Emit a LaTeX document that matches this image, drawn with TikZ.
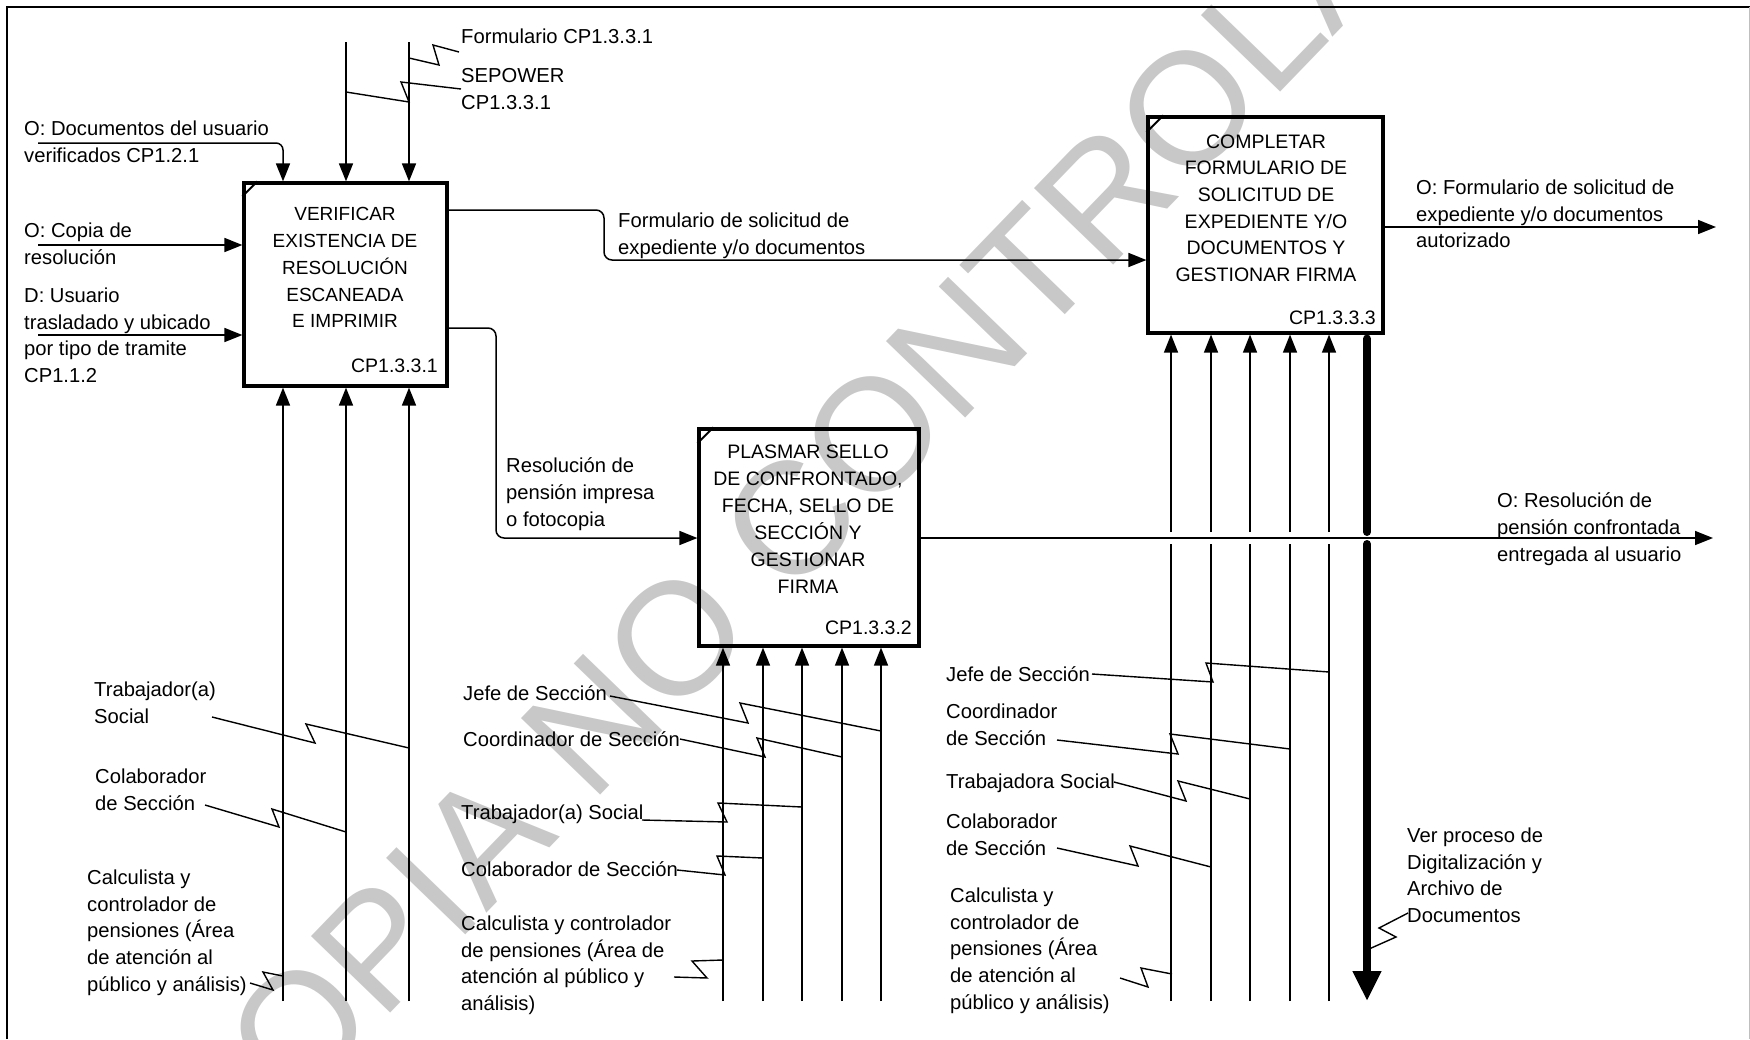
\documentclass[tikz,border=0pt]{standalone}
\usepackage{fontspec}
\setmainfont{Liberation Sans}
\usetikzlibrary{arrows.meta}
\definecolor{wmcol}{RGB}{200,200,200}
\begin{document}
\begin{tikzpicture}[x=1pt,y=-1pt,
  lab/.style={inner sep=0pt, align=left, anchor=north west, yshift=-4pt, font=\fontsize{20.2}{26.8}\selectfont, execute at begin node=\strut},
  btxt/.style={inner sep=0pt, align=center, anchor=north, yshift=-4pt, font=\fontsize{19.5}{26.8}\selectfont, execute at begin node=\strut},
  cpl/.style={inner sep=0pt, anchor=base east, font=\fontsize{19.5}{26.8}\selectfont},
  proc/.style={draw, line width=3.2pt, inner sep=0pt},
  ln/.style={line width=1.5pt},
  arr/.style={line width=1.5pt, -{Triangle[length=18pt,width=14pt]}},
  sq/.style={line width=1.4pt},
  thk/.style={line width=8pt, line cap=round}
]
\useasboundingbox (0,0) rectangle (1750,1039);
% watermark
\node[text=wmcol, inner sep=0pt, anchor=base west, rotate=46, font=\fontsize{160}{160}\selectfont] (wmk) at (215,1195) {COPIA NO CONTROLADA};
% frame
\draw[line width=2pt] (7,1039) -- (7,7) -- (1750,7);
\draw[black!25, line width=1pt] (1749,7) -- (1749,1039);

% process boxes
\node[proc, minimum width=203pt, minimum height=203pt] (b1) at (345.5,284.5) {};
\node[proc, minimum width=220pt, minimum height=217pt] (b2) at (809,537.5) {};
\node[proc, minimum width=235pt, minimum height=216pt] (b3) at (1265.5,225) {};
\draw[line width=2pt] ([yshift=-15pt]b1.north west) -- ([xshift=15pt]b1.north west);
\draw[line width=2pt] ([yshift=-16pt]b2.north west) -- ([xshift=16pt]b2.north west);
\draw[line width=2pt] ([yshift=-17pt]b3.north west) -- ([xshift=17pt]b3.north west);

\node[btxt, font=\fontsize{19}{26.75}\selectfont] (b1t) at (345,203.4) {VERIFICAR\\EXISTENCIA DE\\RESOLUCIÓN\\ESCANEADA\\E IMPRIMIR};
\node[btxt, font=\fontsize{19.5}{27}\selectfont] (b2t) at (808,440.4) {PLASMAR SELLO\\DE CONFRONTADO,\\FECHA, SELLO DE\\SECCIÓN Y\\GESTIONAR\\FIRMA};
\node[btxt, font=\fontsize{19.5}{26.6}\selectfont] (b3t) at (1266,130.4) {COMPLETAR\\FORMULARIO DE\\SOLICITUD DE\\EXPEDIENTE Y/O\\DOCUMENTOS Y\\GESTIONAR FIRMA};
\node[cpl] (cp1) at (438,372) {CP1.3.3.1};
\node[cpl] (cp2) at (912,634) {CP1.3.3.2};
\node[cpl] (cp3) at (1376,324) {CP1.3.3.3};

% labels
\node[lab] (lDoc) at (24,116.4) {O: Documentos del usuario\\verificados CP1.2.1};
\node[lab] (lCop) at (24,218.4) {O: Copia de\\resolución};
\node[lab] (lUsu) at (24,283.4) {D: Usuario\\trasladado y ubicado\\por tipo de tramite\\CP1.1.2};
\node[lab] (lFor) at (461,21) {Formulario CP1.3.3.1};
\node[lab] (lSep) at (461,64.6) {SEPOWER\\CP1.3.3.1};
\node[lab] (lFs) at (618,208.4) {Formulario de solicitud de\\expediente y/o documentos};
\node[lab] (lRes) at (506,453.4) {Resolución de\\pensión impresa\\o fotocopia};
\node[lab] (lOF) at (1416,175.4) {O: Formulario de solicitud de\\expediente y/o documentos\\autorizado};
\node[lab] (lOR) at (1497,488.4) {O: Resolución de\\pensión confrontada\\entregada al usuario};
\node[lab] (lT1) at (94,677.4) {Trabajador(a)\\Social};
\node[lab] (lC1) at (95,764.4) {Colaborador\\de Sección};
\node[lab] (lK1) at (87,865.4) {Calculista y\\controlador de\\pensiones (Área\\de atención al\\público y análisis)};
\node[lab] (lJ2) at (463,677.4) {Jefe de Sección};
\node[lab] (lCo2) at (463,723.4) {Coordinador de Sección};
\node[lab] (lT2) at (461,796.4) {Trabajador(a) Social};
\node[lab] (lC2) at (461,853.4) {Colaborador de Sección};
\node[lab] (lK2) at (461,911.4) {Calculista y controlador\\de pensiones (Área de\\atención al público y\\análisis)};
\node[lab] (lJ3) at (946,658.4) {Jefe de Sección};
\node[lab] (lCo3) at (946,699.4) {Coordinador\\de Sección};
\node[lab] (lT3) at (946,765.4) {Trabajadora Social};
\node[lab] (lC3) at (946,809.4) {Colaborador\\de Sección};
\node[lab] (lK3) at (950,883.4) {Calculista y\\controlador de\\pensiones (Área\\de atención al\\público y análisis)};
\node[lab] (lVer) at (1407,823.4) {Ver proceso de\\Digitalización y\\Archivo de\\Documentos};

% coordinates
\coordinate (i1) at (38,245);
\coordinate (i2) at (38,335);
\coordinate (i3) at (38,143);
\coordinate (k5) at (283,143);
\coordinate (c1) at (346,42);
\coordinate (c2) at (409,42);
\coordinate (k1) at (604,210);
\coordinate (k2) at (604,260);
\coordinate (k3) at (496,328);
\coordinate (k4) at (496,538);
\coordinate (o2) at (1713,538);
\coordinate (o3) at (1716,227);
\coordinate (m11) at (283,1001);
\coordinate (m12) at (346,1001);
\coordinate (m13) at (409,1001);
\coordinate (m21) at (723,1001);
\coordinate (m22) at (763,1001);
\coordinate (m23) at (802,1001);
\coordinate (m24) at (842,1001);
\coordinate (m25) at (881,1001);
\coordinate (m31) at (1171,1001);
\coordinate (m32) at (1211,1001);
\coordinate (m33) at (1250,1001);
\coordinate (m34) at (1290,1001);
\coordinate (m35) at (1329,1001);
\coordinate (tk) at (1367,1001);

% inputs box 1
\draw[arr] (i1) -- (i1 -| b1.west);
\draw[arr] (i2) -- (i2 -| b1.west);
\draw[arr, rounded corners=7pt] (i3) -- (k5) -- (k5 |- b1.north);
% controls box 1
\draw[arr] (c1) -- (c1 |- b1.north);
\draw[arr] (c2) -- (c2 |- b1.north);
\draw[sq] (459,52) -- (433,45) -- (439,65) -- (409,58);
\draw[sq] (461,89) -- (401,82) -- (409,102) -- (346,92);
% box1 -> box3, box1 -> box2
\draw[arr, rounded corners=8pt] (b1.east |- k1) -- (k1) -- (k2) -- (k2 -| b3.west);
\draw[arr, rounded corners=8pt] (b1.east |- k3) -- (k3) -- (k4) -- (k4 -| b2.west);
% outputs
\draw[arr] (b3.east |- o3) -- (o3);
\draw[arr] (b2.east |- o2) -- (o2);

% mechanisms box 1
\foreach \m in {m11,m12,m13} \draw[arr] (\m) -- (\m |- b1.south);
\draw[sq] (212,717) -- (315,743) -- (306,724) -- (409,748);
\draw[sq] (205,805) -- (279,827) -- (272,809) -- (346,832);
\draw[sq] (250,983) -- (273,990) -- (263,972) -- (283,976);
% mechanisms box 2
\foreach \m in {m21,m22,m23,m24,m25} \draw[arr] (\m) -- (\m |- b2.south);
\draw[sq] (610,696) -- (748,723) -- (740,703) -- (881,731);
\draw[sq] (680,739) -- (765,757) -- (757,738) -- (842,757);
\draw[sq] (642,820) -- (727,822) -- (718,803) -- (802,807);
\draw[sq] (677,870) -- (725,875) -- (717,856) -- (763,858);
\draw[sq] (674,977) -- (707,978) -- (692,961) -- (723,960);
% mechanisms box 3 (bridged over the output line)
\foreach \m in {m31,m32,m33,m34,m35} {
  \draw[ln] (\m) -- ([yshift=-6pt]\m |- o2);
  \draw[arr] ([yshift=6pt]\m |- o2) -- (\m |- b3.south);
}
\draw[sq] (1092,674) -- (1213,682) -- (1206,663) -- (1329,672);
\draw[sq] (1057,740) -- (1178,754) -- (1170,734) -- (1290,749);
\draw[sq] (1114,782) -- (1186,801) -- (1178,781) -- (1250,799);
\draw[sq] (1057,848) -- (1138,866) -- (1130,846) -- (1211,867);
\draw[sq] (1120,978) -- (1148,987) -- (1141,968) -- (1172,974);
% thick output to another process
\draw[thk] ([yshift=-4pt]tk |- b3.south) -- ([yshift=6pt]tk |- o2);
\draw[line width=8pt, -{Triangle[length=30pt,width=27pt]}] ([yshift=-6pt]tk |- o2) -- (tk);
\draw[line width=8pt, line cap=round] ([yshift=-6pt]tk |- o2) -- ([yshift=-7pt]tk |- o2);
\draw[sq] (1408,913) -- (1379,928) -- (1396,937) -- (1369,949);
\end{tikzpicture}
\end{document}
